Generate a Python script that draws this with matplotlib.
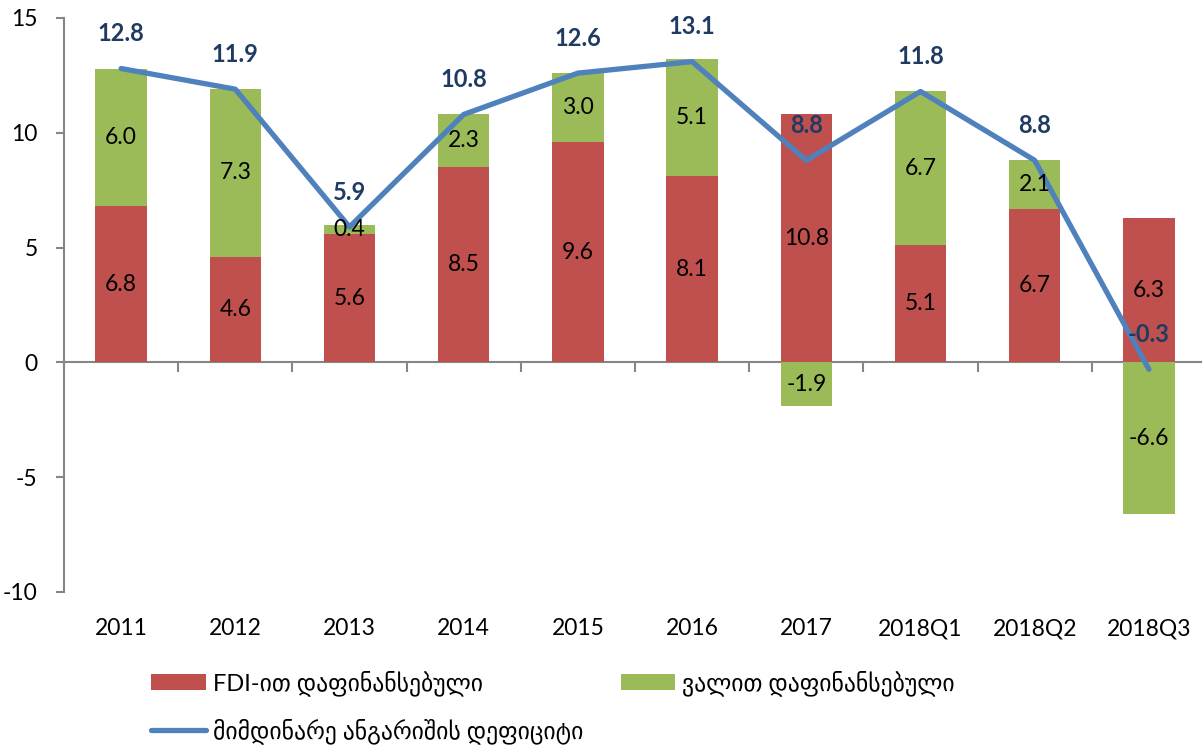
import matplotlib
matplotlib.use("Agg")
import matplotlib.pyplot as plt
import numpy as np

categories = ["2011", "2012", "2013", "2014", "2015", "2016", "2017", "2018Q1", "2018Q2", "2018Q3"]
fdi = [6.8, 4.6, 5.6, 8.5, 9.6, 8.1, 10.8, 5.1, 6.7, 6.3]
debt = [6.0, 7.3, 0.4, 2.3, 3.0, 5.1, -1.9, 6.7, 2.1, -6.6]
deficit = [12.8, 11.9, 5.9, 10.8, 12.6, 13.1, 8.8, 11.8, 8.8, -0.3]
yticks = [-10, -5, 0, 5, 10, 15]

lbl_fdi = "FDI-ით დაფინანსებული"
lbl_debt = "ვალით დაფინანსებული"
lbl_def = "მიმდინარე ანგარიშის დეფიციტი"

plt.rcParams['font.family'] = ['Lato', 'DejaVu Sans']

RED = "#C0504D"
GREEN = "#9BBB59"
BLUE = "#4F81BD"
DARK = "#1F3B63"
GRAY = "#868686"

fig = plt.figure(figsize=(12.02, 7.51), dpi=100)
ax = fig.add_axes([64/1202, 1-592/751, (1206-64)/1202, (592-18)/751])

x = np.arange(len(categories))
fdi_a = np.array(fdi)
debt_a = np.array(debt)
bottom = np.where(debt_a >= 0, fdi_a, 0)
w = 0.45

b1 = ax.bar(x, fdi_a, w, color=RED, label=lbl_fdi, zorder=2)
b2 = ax.bar(x, debt_a, w, bottom=bottom, color=GREEN, label=lbl_debt, zorder=2)
ax.bar_label(b1, labels=[f"{v:.1f}" for v in fdi], label_type='center', fontsize=16.5, color='black', zorder=5)
ax.bar_label(b2, labels=[f"{v:.1f}" for v in debt], label_type='center', fontsize=16.5, color='black', zorder=5)

ln, = ax.plot(x, deficit, color=BLUE, lw=3.8, solid_capstyle='round', label=lbl_def, zorder=4)
for xi, v in zip(x, deficit):
    ax.annotate(f"{v:.1f}", (xi, v), xytext=(0, 25), textcoords='offset points',
                ha='center', va='center', fontsize=17, fontweight='bold', color=DARK, zorder=6)

ax.set_xlim(-0.5, len(categories) - 0.5)
ax.set_ylim(-10, 15)
ax.set_yticks(yticks)
ax.set_yticklabels([str(t) for t in yticks])
ax.tick_params(axis='y', length=6, width=1.5, color=GRAY, pad=13, labelsize=16.5)
ax.set_xticks(x)
ax.set_xticklabels(categories)
ax.tick_params(axis='x', length=0, pad=19, labelsize=16.5)

for s in ['top', 'right', 'bottom']:
    ax.spines[s].set_visible(False)
ax.spines['left'].set_color(GRAY)
ax.spines['left'].set_linewidth(1.5)

sec = ax.secondary_xaxis(10/25)
sec.set_xticks(np.arange(len(categories) + 1) - 0.5)
sec.set_xticklabels([])
sec.tick_params(axis='x', length=7, width=1.5, color=GRAY, direction='out')
sec.spines['bottom'].set_color(GRAY)
sec.spines['bottom'].set_linewidth(1.5)
sec.spines['bottom'].set_zorder(3)

leg = fig.legend(handles=[b1, ln, b2], loc='upper left', bbox_to_anchor=(130/1202, 1-649/751),
                 ncol=2, frameon=False, fontsize=17, handlelength=2.3, handleheight=0.7,
                 columnspacing=1.6, labelspacing=0.95, handletextpad=0.3)

fig.savefig("out.png", dpi=100)
